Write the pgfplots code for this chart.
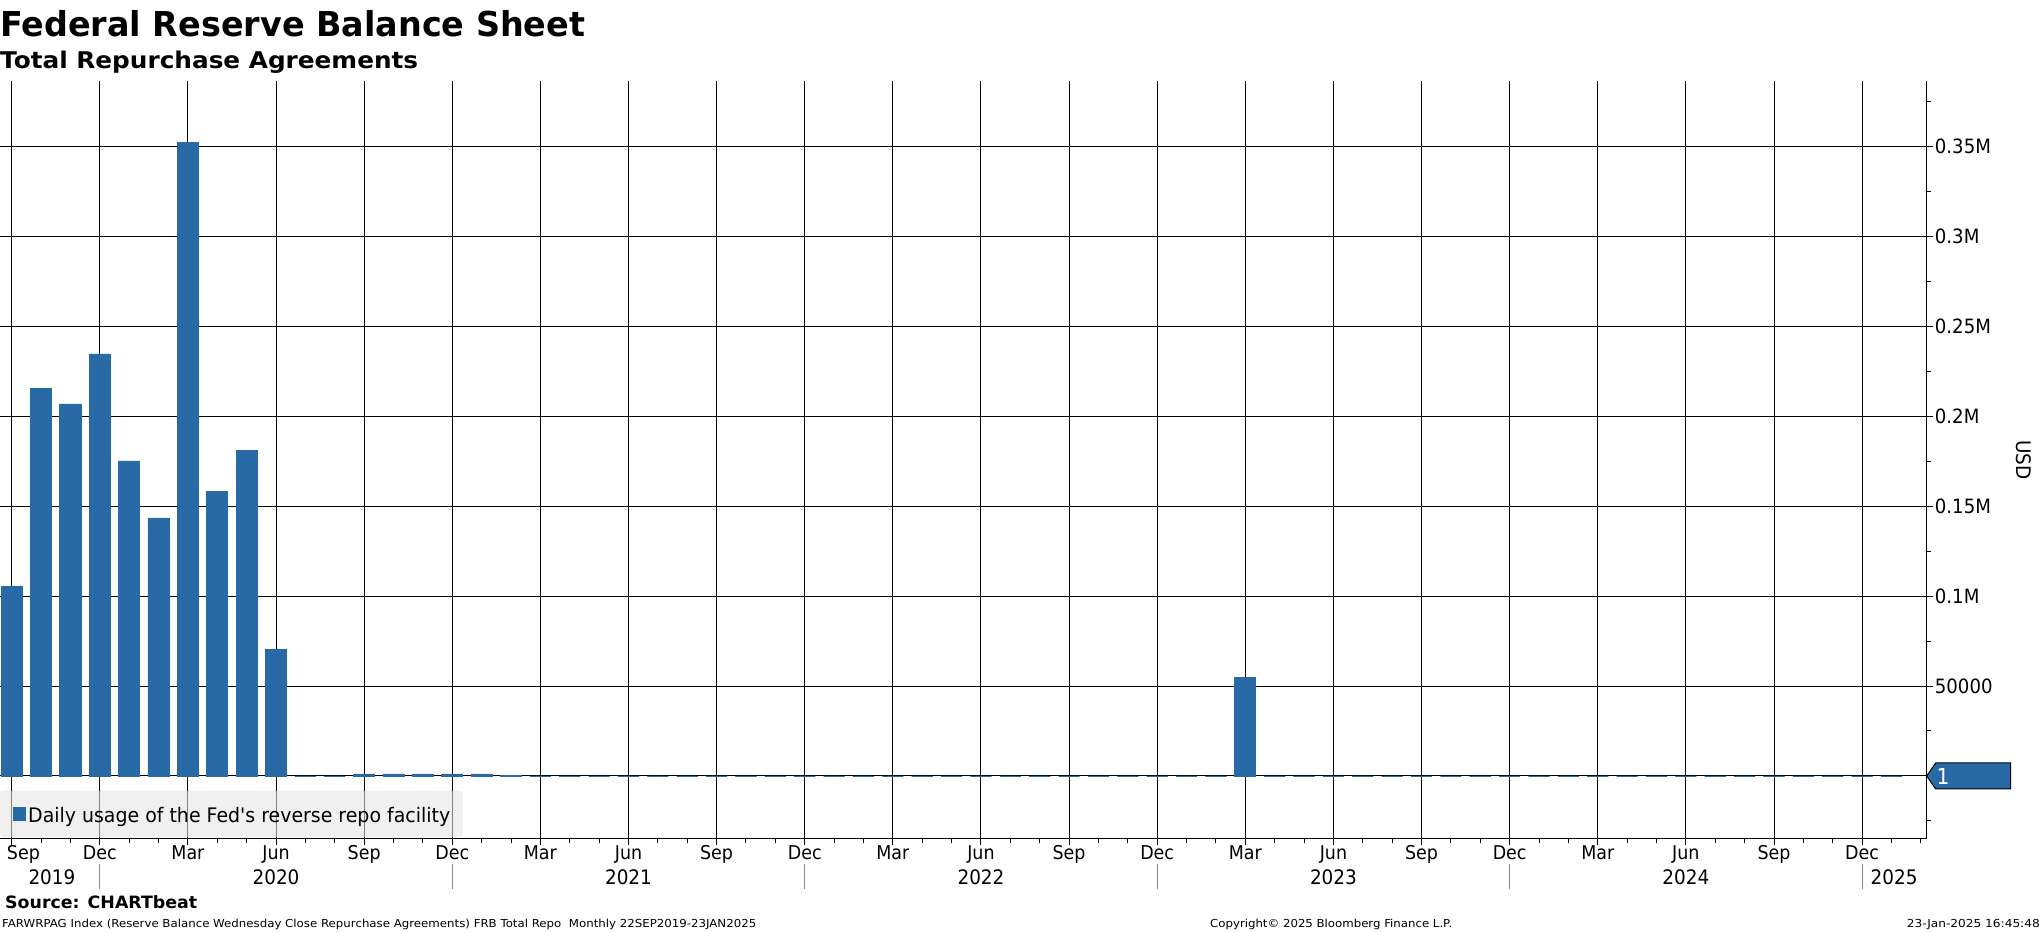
\documentclass[border=0pt]{standalone}
\usepackage{fontspec}
\setmainfont{DejaVu Sans}[FakeStretch=0.92, Ligatures=TeXOff]
\usepackage{graphicx}
\usepackage{pgfplots}
\pgfplotsset{compat=1.18}
\definecolor{barblue}{RGB}{40,106,166}
\definecolor{legbg}{RGB}{228,228,228}
\newcommand{\fs}[1]{\fontsize{#1bp}{#1bp}\selectfont}
\begin{document}
\begin{tikzpicture}[x=1bp,y=1bp]
\path[use as bounding box] (0,0) rectangle (2041,932);
\begin{axis}[
  at={(0bp,93.3bp)}, anchor=south west,
  scale only axis, width=1926.7bp, height=757.7bp,
  xmin=-0.398, xmax=65.2, ymin=-34900, ymax=386500,
  axis x line=bottom, axis y line=right,
  axis line style={-, black, line width=1.1bp},
  xtick={0,3,6,9,12,15,18,21,24,27,30,33,36,39,42,45,48,51,54,57,60,63},
  xticklabels={\hspace*{23.4bp}Sep,Dec,Mar,Jun,Sep,Dec,Mar,Jun,Sep,Dec,Mar,Jun,Sep,Dec,Mar,Jun,Sep,Dec,Mar,Jun,Sep,Dec},
  minor xtick={0,1,2,3,4,5,6,7,8,9,10,11,12,13,14,15,16,17,18,19,20,21,22,23,24,25,26,27,28,29,30,31,32,33,34,35,36,37,38,39,40,41,42,43,44,45,46,47,48,49,50,51,52,53,54,55,56,57,58,59,60,61,62,63,64,65},
  ytick={0,50000,100000,150000,200000,250000,300000,350000},
  yticklabels={,50000,0.1M,0.15M,0.2M,0.25M,0.3M,0.35M},
  minor ytick={-25000,25000,75000,125000,175000,225000,275000,325000,375000},
  scaled y ticks=false,
  tick align=outside,
  major tick length=6bp, minor tick length=4bp,
  tick style={black, line width=1bp},
  grid=major,
  major grid style={black, line width=1bp},
  /pgf/number format/assume math mode=true,
  xticklabel style={font=\fs{19}, inner sep=0pt, anchor=base, yshift=-14.6bp},
  yticklabel style={font=\fs{19.7}, inner sep=0pt, anchor=west, xshift=2bp},
  clip=false,
  legend style={at={(0,0)}, anchor=south west, yshift=1.7bp, fill=legbg, fill opacity=0.56, text opacity=1, draw=none, rounded corners=3bp, inner xsep=12.7bp, inner ysep=13bp, nodes={inner sep=0pt, text height=18.2bp, text depth=1.7bp}, column sep=2bp},
  legend cell align=left,
]
\addplot[ybar, bar width=0.72, fill=barblue, draw=barblue, line width=0.8bp,
  legend image code/.code={\fill[barblue, fill opacity=1, sharp corners] (0bp,-6.25bp) rectangle (12.5bp,6.35bp);}]
coordinates {
(0,105200) (1,215300) (2,206900) (3,234700) (4,175200) (5,143500)
(6,352200) (7,158100) (8,180800) (9,70200) (10,0) (11,0)
(12,1100) (13,1100) (14,1100) (15,1100) (16,1100) (17,500)
(18,0) (19,0) (20,0) (21,0) (22,0) (23,0) (24,0) (25,0) (26,0) (27,0)
(28,0) (29,0) (30,0) (31,0) (32,0) (33,0) (34,0) (35,0) (36,0) (37,0)
(38,0) (39,0) (40,0) (41,0) (42,55000) (43,0) (44,0) (45,0) (46,0) (47,0)
(48,0) (49,0) (50,0) (51,0) (52,0) (53,0) (54,0) (55,0) (56,0) (57,0)
(58,0) (59,0) (60,0) (61,0) (62,0) (63,0) (64,0)
};
\addlegendentry{\resizebox{422bp}{\height}{\fs{20}Daily usage of the Fed's reverse repo facility}}
% year separators
\draw[black!45, line width=1bp] (axis cs:3,-34900) ++(0bp,-25.3bp) -- ++(0bp,-25bp);
\draw[black!45, line width=1bp] (axis cs:15,-34900) ++(0bp,-25.3bp) -- ++(0bp,-25bp);
\draw[black!45, line width=1bp] (axis cs:27,-34900) ++(0bp,-25.3bp) -- ++(0bp,-25bp);
\draw[black!45, line width=1bp] (axis cs:39,-34900) ++(0bp,-25.3bp) -- ++(0bp,-25bp);
\draw[black!45, line width=1bp] (axis cs:51,-34900) ++(0bp,-25.3bp) -- ++(0bp,-25bp);
\draw[black!45, line width=1bp] (axis cs:63,-34900) ++(0bp,-25.3bp) -- ++(0bp,-25bp);
\node[anchor=base, font=\fs{20}, yshift=-46.3bp] at (axis cs:1.37,-34900) {2019};
\node[anchor=base, font=\fs{20}, yshift=-46.3bp] at (axis cs:9,-34900) {2020};
\node[anchor=base, font=\fs{20}, yshift=-46.3bp] at (axis cs:21,-34900) {2021};
\node[anchor=base, font=\fs{20}, yshift=-46.3bp] at (axis cs:33,-34900) {2022};
\node[anchor=base, font=\fs{20}, yshift=-46.3bp] at (axis cs:45,-34900) {2023};
\node[anchor=base, font=\fs{20}, yshift=-46.3bp] at (axis cs:57,-34900) {2024};
\node[anchor=base, font=\fs{20}, yshift=-46.3bp] at (axis cs:64.09,-34900) {2025};
\end{axis}
% last value marker
\draw[fill=barblue, line width=1bp] (1926.7,156) -- (1935.7,169) -- (2010.7,169) -- (2010.7,143) -- (1935.7,143) -- cycle;
\node[anchor=base west, inner sep=0pt, text=white, font=\fs{22}] at (1936.5,147.7) {1};
% axis unit label
\node[rotate=-90, font=\fs{20}, inner sep=0pt] at (2024,472) {USD};
% titles
\node[anchor=base west, inner sep=0pt] at (0,895.3) {\resizebox{585bp}{\height}{\fs{34.3}\bfseries Federal Reserve Balance Sheet}};
\node[anchor=base west, inner sep=0pt] at (0,863.7) {\resizebox{418bp}{\height}{\fs{23}\bfseries Total Repurchase Agreements}};
% footer
\node[anchor=base west, inner sep=0pt] at (5,23.7) {\resizebox{192bp}{\height}{\fs{17}\bfseries Source: CHARTbeat}};
\node[anchor=base west, inner sep=0pt] at (2,4.7) {\resizebox{754bp}{\height}{\fs{11}FARWRPAG Index (Reserve Balance Wednesday Close Repurchase Agreements) FRB Total Repo\ \ Monthly 22SEP2019-23JAN2025}};
\node[anchor=base west, inner sep=0pt] at (1210,4.7) {\resizebox{242bp}{\height}{\fs{11}Copyright\textcopyright{} 2025 Bloomberg Finance L.P.}};
\node[anchor=base east, inner sep=0pt] at (2040,4.7) {\resizebox{133bp}{\height}{\fs{11}23-Jan-2025 16:45:48}};
\end{tikzpicture}
\end{document}
